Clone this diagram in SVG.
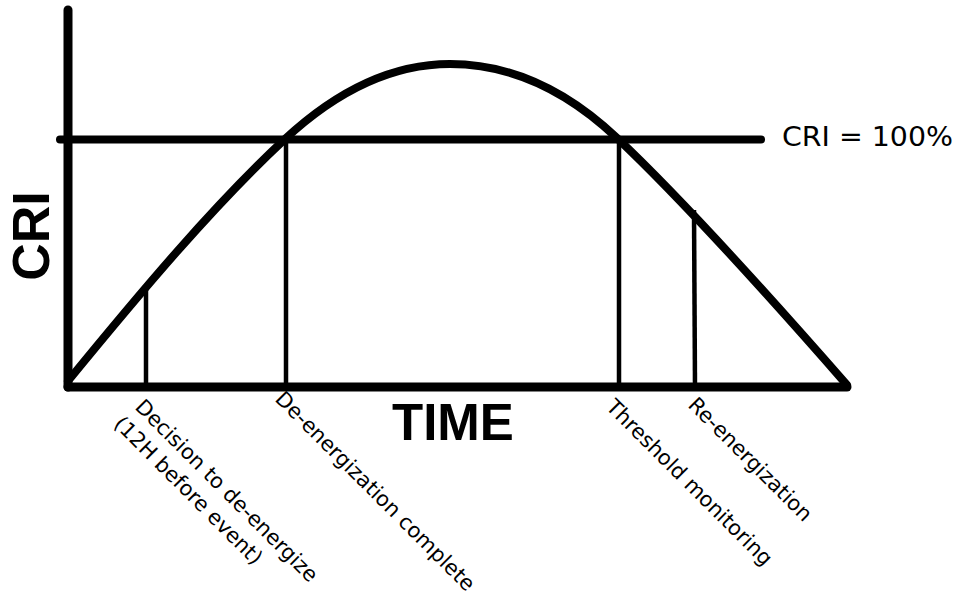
<svg xmlns="http://www.w3.org/2000/svg" width="959" height="601" viewBox="0 0 959 601">
<style>
.axis{stroke:#000;stroke-width:9;stroke-linecap:round;fill:none}
.thick{stroke:#000;stroke-width:8;stroke-linecap:round;stroke-linejoin:round;fill:none}
.thin{stroke:#000;stroke-width:4.5;fill:none}
.lbl{font-family:"DejaVu Sans",sans-serif;font-size:21px;fill:#000}
.big{font-family:"Liberation Sans",Arial,sans-serif;font-weight:bold;fill:#000}
</style>
<rect width="959" height="601" fill="#fff"/>
<g id="connectors">
<line class="thin" x1="146" y1="289" x2="146" y2="386"/>
<line class="thin" x1="286" y1="140" x2="286" y2="386"/>
<line class="thin" x1="619" y1="140" x2="619" y2="386"/>
<line class="thin" x1="694" y1="210" x2="695" y2="386"/>
<line class="thick" x1="60" y1="139.5" x2="761" y2="139.5"/>
<path class="thick" d="M68,381 C140,293 213,206 285,139 C340,88 395,64 450,64 C505,64 562,86 617,138 C687,204 777,305 847,385"/>
<line class="axis" x1="68" y1="10" x2="68" y2="387"/>
<line class="axis" x1="68" y1="387" x2="847" y2="387"/>
</g>
<g id="axis-y-label"><text class="big" font-size="52" text-anchor="middle" transform="translate(49,236) rotate(-90)">CRI</text></g>
<g id="axis-x-label"><text class="big" font-size="51" x="392" y="440">TIME</text></g>
<g id="cri-label"><text class="lbl" style="font-size:26px" x="782" y="146" textLength="171" lengthAdjust="spacingAndGlyphs">CRI = 100%</text></g>
<g id="decision"><text class="lbl" transform="translate(134,408) rotate(45)"><tspan x="0" y="0">Decision to de-energize</tspan><tspan x="-3" y="27">(12H before event)</tspan></text></g>
<g id="deenergized"><text class="lbl" transform="translate(274,400) rotate(45)">De-energization complete</text></g>
<g id="threshold"><text class="lbl" transform="translate(605,408) rotate(45)">Threshold monitoring</text></g>
<g id="reenergize"><text class="lbl" transform="translate(687,406) rotate(45)">Re-energization</text></g>
</svg>
